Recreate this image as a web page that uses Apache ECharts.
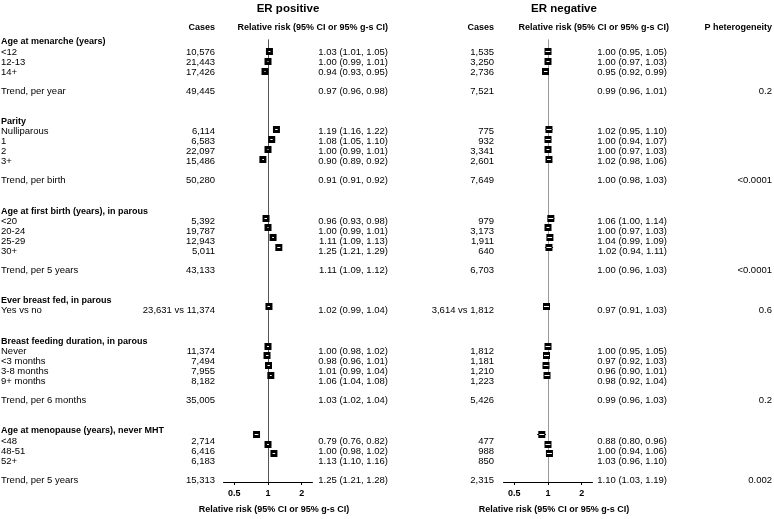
<!DOCTYPE html>
<html>
<head>
<meta charset="utf-8">
<script src="https://cdn.jsdelivr.net/npm/echarts@6/dist/echarts.min.js"></script>
<style>
  html, body { margin: 0; padding: 0; background: #fff; }
  #chart { width: 774px; height: 519px; }
</style>
</head>
<body>
<div id="chart"></div>
<script>
// section headings
var sections = ['Age at menarche (years)', 'Parity', 'Age at first birth (years), in parous',
  'Ever breast fed, in parous', 'Breast feeding duration, in parous', 'Age at menopause (years), never MHT'];

// rows (section index + label)
var rowSection = [0, 0, 0, 0, 1, 1, 1, 1, 1, 2, 2, 2, 2, 2, 3, 4, 4, 4, 4, 4, 5, 5, 5, 5];
var rowLabels = ['<12', '12-13', '14+', 'Trend, per year',
  'Nulliparous', '1', '2', '3+', 'Trend, per birth',
  '<20', '20-24', '25-29', '30+', 'Trend, per 5 years',
  'Yes vs no',
  'Never', '<3 months', '3-8 months', '9+ months', 'Trend, per 6 months',
  '<48', '48-51', '52+', 'Trend, per 5 years'];

// ER positive
var posCases = ['10,576', '21,443', '17,426', '49,445',
  '6,114', '6,583', '22,097', '15,486', '50,280',
  '5,392', '19,787', '12,943', '5,011', '43,133',
  '23,631 vs 11,374',
  '11,374', '7,494', '7,955', '8,182', '35,005',
  '2,714', '6,416', '6,183', '15,313'];
var posRR = [1.03, 1.00, 0.94, 0.97, 1.19, 1.08, 1.00, 0.90, 0.91, 0.96, 1.00, 1.11, 1.25, 1.11, 1.02, 1.00, 0.98, 1.01, 1.06, 1.03, 0.79, 1.00, 1.13, 1.25];
var posLo = [1.01, 0.99, 0.93, 0.96, 1.16, 1.05, 0.99, 0.89, 0.91, 0.93, 0.99, 1.09, 1.21, 1.09, 0.99, 0.98, 0.96, 0.99, 1.04, 1.02, 0.76, 0.98, 1.10, 1.21];
var posHi = [1.05, 1.01, 0.95, 0.98, 1.22, 1.10, 1.01, 0.92, 0.92, 0.98, 1.01, 1.13, 1.29, 1.12, 1.04, 1.02, 1.01, 1.04, 1.08, 1.04, 0.82, 1.02, 1.16, 1.28];

// ER negative
var negCases = ['1,535', '3,250', '2,736', '7,521',
  '775', '932', '3,341', '2,601', '7,649',
  '979', '3,173', '1,911', '640', '6,703',
  '3,614 vs 1,812',
  '1,812', '1,181', '1,210', '1,223', '5,426',
  '477', '988', '850', '2,315'];
var negRR = [1.00, 1.00, 0.95, 0.99, 1.02, 1.00, 1.00, 1.02, 1.00, 1.06, 1.00, 1.04, 1.02, 1.00, 0.97, 1.00, 0.97, 0.96, 0.98, 0.99, 0.88, 1.00, 1.03, 1.10];
var negLo = [0.95, 0.97, 0.92, 0.96, 0.95, 0.94, 0.97, 0.98, 0.98, 1.00, 0.97, 0.99, 0.94, 0.96, 0.91, 0.95, 0.92, 0.90, 0.92, 0.96, 0.80, 0.94, 0.96, 1.03];
var negHi = [1.05, 1.03, 0.99, 1.01, 1.10, 1.07, 1.03, 1.06, 1.03, 1.14, 1.03, 1.09, 1.11, 1.03, 1.03, 1.05, 1.03, 1.01, 1.04, 1.03, 0.96, 1.06, 1.10, 1.19];

// P heterogeneity, one per section
var pHet = ['0.2', '<0.0001', '<0.0001', '0.6', '0.2', '0.002'];

var xTicks = [0.5, 1, 2];

var FONT = '"Liberation Sans", Arial, sans-serif';
var axisTitle = 'Relative risk (95% CI or 95% g-s CI)';

// vertical layout (pixels)
var rowGap = 10, trendGap = 19, sectionGap = 30.6, firstY = 42;
var headerY = [], rowY = [];
(function() {
	var y = firstY, prev = -1;
	for (var i = 0; i < rowLabels.length; i++) {
		var isTrend = rowLabels[i].indexOf('Trend') === 0;
		if (rowSection[i] !== prev) {
			if (prev >= 0) y += sectionGap;
			headerY[rowSection[i]] = y;
			y += rowGap;
			prev = rowSection[i];
		} else {
			y += isTrend ? trendGap : rowGap;
		}
		rowY[i] = y;
	}
})();

function fmtCI(r, l, h) {
	return r.toFixed(2) + ' (' + l.toFixed(2) + ', ' + h.toFixed(2) + ')';
}

function txt(s, x, y, align, bold, size) {
	return {
		type: 'text', x: x, y: y, silent: true,
		style: {
			text: s, fill: '#000', align: align, verticalAlign: 'middle',
			font: (bold ? 'bold ' : '') + (size || 9.5) + 'px ' + FONT
		}
	};
}

var graphics = [];
graphics.push(txt('ER positive', 288, 9, 'center', true, 11.5));
graphics.push(txt('ER negative', 564, 9, 'center', true, 11.5));
graphics.push(txt('Cases', 215, 28, 'right', true, 9));
graphics.push(txt(axisTitle, 388, 28, 'right', true, 9));
graphics.push(txt('Cases', 494, 28, 'right', true, 9));
graphics.push(txt(axisTitle, 669, 28, 'right', true, 9));
graphics.push(txt('P heterogeneity', 772, 28, 'right', true, 9));

sections.forEach(function(s, k) {
	graphics.push(txt(s, 1, headerY[k], 'left', true, 9));
});

rowLabels.forEach(function(lab, i) {
	var y = rowY[i];
	graphics.push(txt(lab, 1, y, 'left', false));
	graphics.push(txt(posCases[i], 215, y, 'right', false));
	graphics.push(txt(fmtCI(posRR[i], posLo[i], posHi[i]), 388, y, 'right', false));
	graphics.push(txt(negCases[i], 494, y, 'right', false));
	graphics.push(txt(fmtCI(negRR[i], negLo[i], negHi[i]), 667, y, 'right', false));
	// p value on the last row of each section
	var last = (i === rowLabels.length - 1) || rowSection[i + 1] !== rowSection[i];
	if (last) graphics.push(txt(pHet[rowSection[i]], 772, y, 'right', false));
});

function markerData(rr, lo, hi) {
	var out = [];
	for (var i = 0; i < rowLabels.length; i++) {
		if (rowLabels[i].indexOf('Trend') === 0) continue;
		out.push([rr[i], lo[i], hi[i], rowY[i]]);
	}
	return out;
}

function makeRender(size) {
	return function(params, api) {
		var y = api.value(3);
		var c = api.coord([api.value(0), y]);
		var l = api.coord([api.value(1), y]);
		var h = api.coord([api.value(2), y]);
		var half = size / 2;
		var wl = Math.max(l[0], c[0] - half + 1);
		var wr = Math.min(h[0], c[0] + half - 1);
		var cy = Math.round(c[1]) + 0.5;
		var kids = [
			{ type: 'line', shape: { x1: l[0], y1: cy, x2: h[0], y2: cy }, style: { stroke: '#000', lineWidth: 1 } },
			{ type: 'rect', shape: { x: c[0] - half, y: cy - half, width: size, height: size }, style: { fill: '#000' } }
		];
		if (wr > wl) {
			kids.push({ type: 'line', shape: { x1: wl, y1: cy, x2: wr, y2: cy }, style: { stroke: '#fff', lineWidth: 1 } });
		}
		return { type: 'group', children: kids };
	};
}

var plotH = 490;
var refTop = firstY - 2;

function xAxisFor(idx) {
	return {
		type: 'log', logBase: 2, min: 0.4, max: 2.5, gridIndex: idx,
		axisLine: { onZero: false, lineStyle: { color: '#000', width: 1 } },
		axisTick: { customValues: xTicks, length: 3, lineStyle: { color: '#000' } },
		axisLabel: {
			customValues: xTicks, margin: 7, color: '#000', fontWeight: 'bold', fontSize: 9, fontFamily: FONT,
			formatter: function(v) { return String(v); }
		},
		splitLine: { show: false },
		name: axisTitle, nameLocation: 'middle', nameGap: 23,
		nameTextStyle: { fontWeight: 'bold', fontSize: 9, color: '#000', fontFamily: FONT, padding: [0, 0, 0, 12] }
	};
}
function yAxisFor(idx) {
	return { type: 'value', gridIndex: idx, min: 0, max: plotH, inverse: true, show: false };
}

var chart = echarts.init(document.getElementById('chart'), null, { renderer: 'canvas' });
chart.setOption({
	animation: false,
	backgroundColor: '#fff',
	grid: [
		{ left: 223.5, width: 89, top: 0, height: plotH },
		{ left: 503.5, width: 89, top: 0, height: plotH }
	],
	xAxis: [xAxisFor(0), xAxisFor(1)],
	yAxis: [yAxisFor(0), yAxisFor(1)],
	series: [
		{
			type: 'custom', xAxisIndex: 0, yAxisIndex: 0, z: 3,
			renderItem: makeRender(7), encode: { x: [0, 1, 2], y: 3 },
			data: markerData(posRR, posLo, posHi),
			markLine: {
				silent: true, symbol: 'none', label: { show: false }, z: 1,
				lineStyle: { color: '#555', width: 1, type: 'solid' },
				data: [[{ coord: [1, refTop] }, { coord: [1, plotH] }]]
			}
		},
		{
			type: 'custom', xAxisIndex: 1, yAxisIndex: 1, z: 3,
			renderItem: makeRender(7), encode: { x: [0, 1, 2], y: 3 },
			data: markerData(negRR, negLo, negHi),
			markLine: {
				silent: true, symbol: 'none', label: { show: false }, z: 1,
				lineStyle: { color: '#999', width: 1, type: 'solid' },
				data: [[{ coord: [1, refTop] }, { coord: [1, plotH] }]]
			}
		}
	],
	graphic: graphics
});
</script>
</body>
</html>
